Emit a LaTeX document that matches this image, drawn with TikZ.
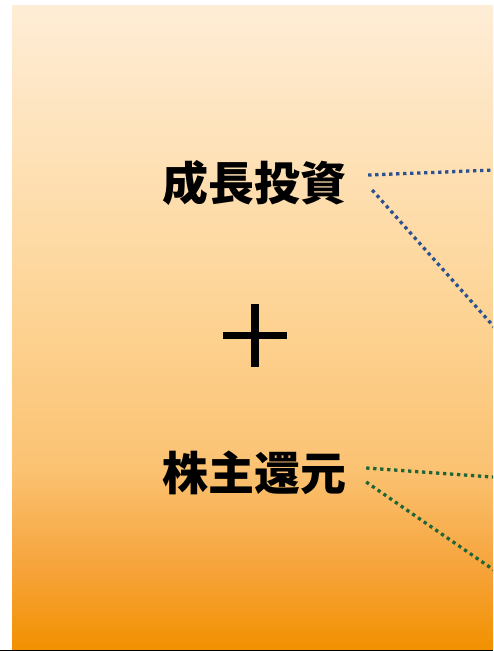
\documentclass[tikz,border=0pt]{standalone}
\usepackage{fontspec}
\newfontfamily\jpfont{Noto Sans CJK JP}
\usepackage{xcolor}
\usetikzlibrary{positioning}

\definecolor{paletop}{HTML}{FEEDD6}
\definecolor{paleupper}{HTML}{FEE0B4}
\definecolor{palemid}{HTML}{FDD393}
\definecolor{palelower}{HTML}{FBC272}
\definecolor{lightorange}{HTML}{F6A33A}
\definecolor{deeporange}{HTML}{F29100}
\definecolor{dotblue}{HTML}{2B5191}
\definecolor{dotgreen}{HTML}{1F6535}
\definecolor{baseline}{HTML}{B8402E}

% path fills the 25bp--75bp band of the shading
\pgfdeclareverticalshading{backdrop}{100bp}{%
    color(0bp)=(deeporange); color(25bp)=(deeporange); color(31.2bp)=(lightorange);
    color(39bp)=(palelower); color(50.6bp)=(palemid); color(62.3bp)=(paleupper);
    color(75bp)=(paletop); color(100bp)=(paletop)}

\tikzset{
    label/.style={font=\jpfont\bfseries\fontsize{46}{50}\selectfont, inner sep=0pt},
    bluedots/.style={dotblue, line width=3.3pt, dash pattern=on 3.3pt off 3.7pt},
    greendots/.style={dotgreen, line width=3.3pt, dash pattern=on 3.3pt off 3.7pt},
}

\begin{document}
\begin{tikzpicture}[x=1pt, y=-1pt]
    \useasboundingbox (0,0) rectangle (493,651);
    \clip (0,0) rectangle (493,651);
    % backdrop
    \shade[shading=backdrop] (12,5) rectangle (493,649);
    \draw[baseline, line width=1.4pt] (0,650.3) -- (493,650.3);

    % labels
    \node[label] (growth) at (254,183) {成長投資};
    \node[label] (return) at (254,473) {株主還元};

    % plus sign
    \draw[line width=7.5pt] (223,335.5) -- (287,335.5);
    \draw[line width=8pt] (255,304) -- (255,367);

    % leaders running off the right edge
    \coordinate (b1) at (520,169);
    \coordinate (b2) at (520,356);
    \coordinate (g1) at (520,479);
    \coordinate (g2) at (520,588);
    \draw[bluedots] ([xshift=22pt,yshift=8pt]growth.east) -- (b1);
    \draw[bluedots] ([xshift=26pt,yshift=-7pt]growth.east) -- (b2);
    \draw[greendots] ([xshift=20pt,yshift=5pt]return.east) -- (g1);
    \draw[greendots] ([xshift=20pt,yshift=-9pt]return.east) -- (g2);
\end{tikzpicture}
\end{document}
